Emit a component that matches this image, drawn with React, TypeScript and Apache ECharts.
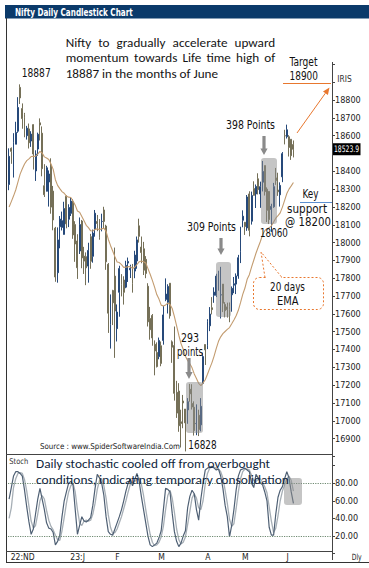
import React, { useEffect, useRef } from 'react';
import * as echarts from 'echarts';

// ---------------- DATA ----------------
const tradingDays: [string, number[]][] = [
  ['2022-11', [24, 25, 28, 29, 30]],
  ['2022-12', [1, 2, 5, 6, 7, 8, 9, 12, 13, 14, 15, 16, 19, 20, 21, 22, 23, 26, 27, 28, 29, 30]],
  ['2023-01', [2, 3, 4, 5, 6, 9, 10, 11, 12, 13, 16, 17, 18, 19, 20, 23, 24, 25, 27, 30, 31]],
  ['2023-02', [1, 2, 3, 6, 7, 8, 9, 10, 13, 14, 15, 16, 17, 20, 21, 22, 23, 24, 27, 28]],
  ['2023-03', [1, 2, 3, 6, 8, 9, 10, 13, 14, 15, 16, 17, 20, 21, 22, 23, 24, 27, 28, 29, 31]],
  ['2023-04', [3, 5, 6, 10, 11, 12, 13, 17, 18, 19, 20, 21, 24, 25, 26, 27, 28]],
  ['2023-05', [2, 3, 4, 5, 8, 9, 10, 11, 12, 15, 16, 17, 18, 19, 22, 23, 24, 25, 26, 29, 30, 31]],
  ['2023-06', [1, 2]],
];
const dates: string[] = tradingDays.flatMap(([m, ds]) => ds.map((d) => `${m}-${String(d).padStart(2, '0')}`));
const blankSlots = 17;

// [open, high, low, close]
const ohlc: number[][] = [
  [18326, 18529, 18294, 18484], [18529, 18534, 18442, 18512], [18430, 18614, 18365, 18562], [18552, 18678, 18552, 18618], [18625, 18816, 18616, 18758],
  [18871, 18888, 18778, 18812], [18752, 18781, 18639, 18696], [18719, 18728, 18591, 18701], [18600, 18655, 18578, 18642], [18638, 18668, 18528, 18560],
  [18570, 18625, 18537, 18609], [18662, 18664, 18410, 18497], [18402, 18518, 18346, 18497], [18525, 18617, 18487, 18608], [18672, 18697, 18573, 18660],
  [18614, 18652, 18372, 18415], [18319, 18440, 18256, 18269], [18288, 18431, 18287, 18420], [18340, 18405, 18202, 18385], [18435, 18473, 18162, 18199],
  [18289, 18318, 18069, 18127], [18081, 18088, 17780, 17807], [17831, 18085, 17775, 18015], [18089, 18149, 17968, 18132], [18085, 18174, 18068, 18123],
  [18046, 18229, 18045, 18191], [18260, 18265, 18080, 18105],
  [18131, 18215, 18087, 18197], [18164, 18252, 18149, 18233], [18230, 18244, 18021, 18043], [18101, 18120, 17892, 17992], [18009, 18047, 17796, 17859],
  [17953, 18141, 17936, 18101], [18121, 18127, 17856, 17914], [17924, 17976, 17824, 17896], [17921, 17945, 17761, 17858], [17868, 17999, 17775, 17956],
  [18033, 18049, 17853, 17895], [17923, 18073, 17887, 18053], [18074, 18183, 18033, 18165], [18119, 18155, 18064, 18107], [18115, 18132, 18016, 18028],
  [18118, 18162, 18063, 18119], [18183, 18201, 18078, 18119], [18093, 18100, 17847, 17892], [17878, 17885, 17493, 17604], [17541, 17709, 17405, 17649],
  [17731, 17735, 17537, 17662],
  [17812, 17972, 17353, 17616], [17517, 17653, 17445, 17610], [17721, 17870, 17584, 17854], [17818, 17823, 17698, 17765], [17790, 17811, 17652, 17721],
  [17750, 17898, 17744, 17872], [17885, 17916, 17779, 17894], [17847, 17876, 17801, 17856], [17859, 17880, 17719, 17771], [17840, 17954, 17800, 17930],
  [17897, 18034, 17853, 18015], [18094, 18134, 18000, 18035], [17975, 18034, 17884, 17944], [17965, 18004, 17818, 17845], [17906, 17924, 17800, 17827],
  [17755, 17772, 17529, 17555], [17574, 17639, 17455, 17511], [17591, 17599, 17421, 17465], [17429, 17451, 17255, 17392], [17383, 17440, 17299, 17304],
  [17360, 17467, 17345, 17451], [17421, 17445, 17306, 17322], [17451, 17644, 17427, 17594], [17681, 17799, 17671, 17711], [17665, 17766, 17602, 17754],
  [17772, 17773, 17573, 17589], [17443, 17451, 17325, 17413], [17422, 17529, 17113, 17154], [17160, 17224, 17016, 17043], [17167, 17211, 16938, 16972],
  [16994, 17062, 16850, 16985], [17111, 17145, 16958, 17100], [17066, 17066, 16828, 16988], [17061, 17127, 16983, 17107], [17177, 17207, 17107, 17151],
  [17097, 17205, 17063, 17077], [17076, 17109, 16917, 16945], [16984, 17092, 16919, 16985], [17031, 17062, 16914, 16951], [16977, 17127, 16941, 17081],
  [17210, 17382, 17205, 17360],
  [17428, 17428, 17313, 17398], [17422, 17570, 17402, 17557], [17533, 17638, 17503, 17599], [17634, 17694, 17597, 17624], [17704, 17749, 17662, 17722],
  [17704, 17825, 17694, 17812], [17807, 17842, 17730, 17828], [17706, 17864, 17574, 17707], [17767, 17767, 17610, 17660], [17653, 17666, 17580, 17618],
  [17639, 17663, 17579, 17624], [17639, 17664, 17553, 17624], [17707, 17754, 17612, 17743], [17761, 17807, 17716, 17769], [17767, 17827, 17711, 17813],
  [17813, 17931, 17797, 17915], [17950, 18089, 17885, 18065],
  [18125, 18181, 18086, 18148], [18114, 18115, 18043, 18090], [18082, 18267, 18066, 18256], [18273, 18288, 18035, 18069], [18120, 18286, 18101, 18264],
  [18303, 18344, 18264, 18265], [18273, 18326, 18194, 18315], [18358, 18389, 18270, 18297], [18273, 18342, 18195, 18314], [18339, 18458, 18287, 18399],
  [18432, 18432, 18264, 18286], [18300, 18310, 18115, 18181], [18287, 18288, 18104, 18129], [18186, 18218, 18060, 18203], [18201, 18335, 18195, 18314],
  [18363, 18419, 18324, 18348], [18295, 18392, 18262, 18285], [18268, 18338, 18202, 18321], [18369, 18508, 18339, 18499], [18600, 18633, 18551, 18599],
  [18594, 18662, 18584, 18633], [18594, 18603, 18483, 18534],
  [18580, 18580, 18464, 18488], [18550, 18573, 18478, 18523.9],
];

const ema20: number[] = [
  18200, 18230, 18261, 18295, 18339, 18384, 18414, 18441, 18460, 18470,
  18483, 18484, 18485, 18497, 18512, 18503, 18481, 18475, 18466, 18441,
  18411, 18353, 18321, 18303, 18286, 18277, 18261, 18255, 18253, 18233,
  18210, 18177, 18170, 18146, 18122, 18097, 18084, 18066, 18065, 18074,
  18077, 18072, 18077, 18081, 18063, 18019, 17984, 17953, 17921, 17891,
  17888, 17876, 17861, 17862, 17865, 17864, 17855, 17862, 17877, 17892,
  17897, 17892, 17886, 17854, 17822, 17788, 17750, 17708, 17683, 17649,
  17644, 17650, 17660, 17653, 17630, 17585, 17533, 17480, 17433, 17401,
  17362, 17338, 17320, 17297, 17263, 17237, 17210, 17197, 17213, 17230,
  17261, 17294, 17325, 17363, 17406, 17446, 17471, 17489, 17501, 17513,
  17523, 17544, 17566, 17589, 17620, 17663, 17709, 17745, 17794, 17820,
  17862, 17901, 17940, 17974, 18006, 18044, 18067, 18078, 18083, 18094,
  18115, 18137, 18151, 18167, 18199, 18237, 18275, 18300, 18318, 18337,
];

const stochK: number[] = [
  62, 75, 88, 93, 93, 91, 88, 72, 53, 36,
  22, 28, 45, 62, 74, 62, 50, 35, 29, 28,
  24, 10, 14, 21, 42, 60, 70, 80, 82, 78,
  50, 22, 32, 42, 37, 36, 38, 41, 55, 74,
  90, 86, 80, 66, 42, 25, 22, 21, 28, 35,
  42, 50, 60, 71, 80, 85, 77, 84, 91, 82,
  65, 50, 35, 20, 10, 8, 10, 12, 18, 26,
  50, 74, 73, 70, 46, 25, 14, 8, 12, 20,
  26, 52, 65, 72, 68, 50, 38, 62, 80, 95,
  97, 98, 99, 97, 95, 96, 88, 74, 55, 42,
  19, 32, 50, 72, 88, 95, 96, 97, 95, 93,
  80, 75, 90, 86, 80, 78, 70, 60, 30, 21,
  21, 45, 64, 72, 76, 85, 93, 86, 70, 57,
];

const stochD: number[] = [
  40, 52, 75, 85, 91, 92, 91, 84, 71, 54,
  37, 29, 32, 45, 60, 66, 62, 49, 38, 31,
  27, 21, 16, 15, 26, 41, 57, 70, 77, 80,
  70, 50, 35, 32, 37, 38, 37, 38, 45, 57,
  73, 83, 85, 77, 63, 44, 30, 23, 24, 28,
  35, 42, 51, 60, 70, 79, 81, 82, 84, 86,
  79, 66, 50, 35, 22, 13, 9, 10, 13, 19,
  31, 50, 66, 72, 63, 47, 28, 16, 11, 13,
  19, 33, 48, 63, 68, 63, 52, 50, 60, 79,
  91, 97, 98, 98, 97, 96, 93, 86, 72, 57,
  39, 31, 34, 51, 70, 85, 93, 96, 96, 95,
  89, 83, 82, 84, 85, 81, 76, 69, 53, 37,
  24, 29, 43, 60, 71, 78, 85, 88, 83, 71,
];

const monthLabels: Record<string, string> = {
  '2022-12-01': '22:ND',
  '2023-01-02': '23:J',
  '2023-02-01': 'F',
  '2023-03-01': 'M',
  '2023-04-03': 'A',
  '2023-05-02': 'M',
  '2023-06-01': 'J',
};
const hiddenPriceTicks = [16800, 18500, 18900, 19000];
const lastPriceText = '18523.9';
const stochLevels = [80, 20];

// ---------------- STYLE ----------------
const NARROW = "'Liberation Sans Narrow', 'Arial Narrow', 'DejaVu Sans Condensed', sans-serif";
const MAIN = "Carlito, Calibri, Lato, 'Open Sans', sans-serif";
const ORANGE = '#e8772e';

function buildOption() {
  const cats = [...dates, ...Array.from({ length: blankSlots }, (_, i) => `pad${i}`)];
  const candleData = ohlc.map(([o, h, l, c]) => [o, c, l, h]);
  const richBase = { fontSize: 8.5, fontFamily: NARROW, color: '#222' };
  return {
    animation: false,
    backgroundColor: '#ffffff',
    grid: [
      { left: 8, width: 324, top: 64.4, height: 392 },
      { left: 8, width: 324, top: 465.5, height: 88.2 },
    ],
    xAxis: [
      { type: 'category', gridIndex: 0, data: cats, show: false, boundaryGap: true },
      {
        type: 'category', gridIndex: 1, data: cats, boundaryGap: true,
        axisLine: { show: false }, axisTick: { show: false }, splitLine: { show: false },
        axisLabel: {
          interval: (_i: number, v: string) => v in monthLabels,
          margin: -1.5,
          fontSize: 8.5, fontFamily: NARROW, color: '#222',
          formatter: (v: string) => {
            const t = monthLabels[v];
            if (!t) return '';
            const key = v === '2023-01-02' ? 'b' : v === '2023-06-01' ? 'c' : 'a';
            return `{${key}|${t}}`;
          },
          rich: {
            a: { ...richBase, padding: [0, 0, 0, 5] },
            b: { ...richBase, padding: [0, 0, 0, 18] },
            c: { ...richBase, padding: [0, 7, 0, 0] },
          },
        },
      },
    ],
    yAxis: [
      {
        type: 'value', gridIndex: 0, position: 'right', min: 16800, max: 19000, interval: 100, scale: true,
        axisLine: { show: false }, splitLine: { show: false },
        axisTick: { show: true, length: 3, lineStyle: { color: '#444' } },
        axisLabel: {
          margin: 3, fontSize: 9, fontFamily: NARROW, color: '#222',
          formatter: (v: number) => (hiddenPriceTicks.includes(v) ? '' : String(v)),
        },
      },
      {
        type: 'value', gridIndex: 1, position: 'right', min: 0, max: 100, interval: 20,
        axisLine: { show: false }, splitLine: { show: false },
        axisTick: { show: true, length: 3, lineStyle: { color: '#444' } },
        axisLabel: {
          margin: 3, fontSize: 9, fontFamily: NARROW, color: '#222',
          formatter: (v: number) => (v === 0 || v === 100 ? '' : v.toFixed(2)),
        },
      },
    ],
    series: [
      {
        type: 'candlestick', xAxisIndex: 0, yAxisIndex: 0, data: candleData, barWidth: 1.4,
        itemStyle: { color: '#103a6c', color0: '#5c573f', borderColor: '#26497a', borderColor0: '#757058', borderWidth: 1 },
      },
      {
        type: 'line', xAxisIndex: 0, yAxisIndex: 0, data: ema20, showSymbol: false, symbol: 'none',
        lineStyle: { color: '#c39c70', width: 1.1 },
      },
      {
        type: 'line', xAxisIndex: 1, yAxisIndex: 1, data: stochD, showSymbol: false, symbol: 'none',
        lineStyle: { color: '#a7afb6', width: 1.3 },
        markLine: {
          silent: true, symbol: 'none', label: { show: false },
          lineStyle: { type: 'dotted', color: '#6f8a72', width: 1.2 },
          data: stochLevels.map((v) => ({ yAxis: v })),
        },
      },
      {
        type: 'line', xAxisIndex: 1, yAxisIndex: 1, data: stochK, showSymbol: false, symbol: 'none',
        lineStyle: { color: '#4f6074', width: 1.2 },
      },
    ],
  };
}

function buildGraphics(lastY: number) {
  const ctx = document.createElement('canvas').getContext('2d')!;
  const textW = (t: string, size: number, family: string, weight = 'normal') => {
    ctx.font = `${weight} ${size}px ${family}`;
    return ctx.measureText(t).width || 1;
  };
  const txt = (t: string, x: number, y: number, sx: number, size: number, family: string, color: string, weight = 'normal') => ({
    type: 'text', x, y, scaleX: sx, z: 30,
    style: { text: t, fontSize: size, fontFamily: family, fontWeight: weight, fill: color, align: 'left', verticalAlign: 'middle' },
  });
  const fit = (t: string, x: number, y: number, w: number, size: number, family: string, color = '#111', weight = 'normal') =>
    txt(t, x, y, w / textW(t, size, family, weight), size, family, color, weight);

  const mainSize = 12.5;
  const line3 = '18887 in the months of June';
  const s = 152.6 / textW(line3, mainSize, MAIN);
  const justify = (words: string[], x0: number, x1: number, y: number) => {
    const ws = words.map((w) => textW(w, mainSize, MAIN) * s);
    const gap = (x1 - x0 - ws.reduce((a, b) => a + b, 0)) / (words.length - 1);
    let x = x0;
    return words.map((w, i) => {
      const el = txt(w, x, y, s, mainSize, MAIN, '#151515');
      x += ws[i] + gap;
      return el;
    });
  };

  const downArrow = (cx: number, y0: number, y1: number, tip: number) => ({
    type: 'polygon', z: 25,
    shape: { points: [[cx - 1.6, y0], [cx + 1.6, y0], [cx + 1.6, y1], [cx + 3.6, y1], [cx, tip], [cx - 3.6, y1], [cx - 1.6, y1]] },
    style: { fill: '#8a8a8a' },
  });
  const greyBox = (x: number, y: number, w: number, h: number) => ({
    type: 'rect', z: 20, shape: { x, y, width: w, height: h, r: 3 },
    style: { fill: 'rgba(140,140,140,0.5)' },
  });
  const ln = (x1: number, y1: number, x2: number, y2: number, stroke = '#333', lineWidth = 1, z = 15) => ({
    type: 'line', z, shape: { x1, y1, x2, y2 }, style: { stroke, lineWidth },
  });

  const tip = [329.5, 87.5];
  const base = [325.4, 93.2];

  const els: any[] = [
    { type: 'rect', z: 15, shape: { x: 5, y: 5, width: 364, height: 13.5 }, style: { fill: '#0b3a6a' } },
    ln(6.5, 18, 6.5, 562),
    ln(6, 562.5, 369, 562.5),
    ln(6, 454.5, 332, 454.5, '#444'),
    ln(6, 551.5, 332, 551.5, '#444'),
    ln(332.5, 62, 332.5, 560, '#444'),
    fit('Nifty Daily Candlestick Chart', 15, 11.6, 118, 11, NARROW, '#ffffff', 'bold'),

    ...justify(['Nifty', 'to', 'gradually', 'accelerate', 'upward'], 65.7, 275.3, 42.7),
    ...justify(['momentum', 'towards', 'Life', 'time', 'high', 'of'], 65.7, 275.3, 57.9),
    txt(line3, 65.7, 73.5, s, mainSize, MAIN, '#151515'),
    fit('18887', 21.7, 73.3, 29, 12, NARROW),

    fit('Target', 289.5, 62.5, 28, 12, NARROW),
    fit('18900', 289.5, 75.8, 28.5, 12, NARROW),
    ln(283, 83.5, 331, 83.5, ORANGE, 1.2, 25),
    ln(297, 133, base[0], base[1], ORANGE, 1, 25),
    { type: 'polygon', z: 25, shape: { points: [tip, [327.9, 94.9], [323, 91.5]] }, style: { fill: ORANGE } },
    fit('IRIS', 337.3, 79, 14.4, 8, NARROW, '#333'),

    fit('398 Points', 226, 125, 49, 12, NARROW),
    downArrow(264, 136, 148.5, 155),
    greyBox(261, 158, 16, 66),
    fit('18060', 260, 233.5, 28, 12, NARROW),

    fit('309 Points', 187, 227, 49, 12, NARROW),
    downArrow(221, 238, 248.5, 255),
    greyBox(216, 262, 15, 55),

    fit('293', 181, 338, 18, 12, NARROW),
    fit('points', 177, 352, 26, 12, NARROW),
    downArrow(189, 358, 372, 379),
    greyBox(186, 382, 17, 51),
    fit('16828', 188.3, 445.5, 28.4, 12, NARROW),

    fit('Key', 302.5, 194, 16, 12, NARROW),
    ln(300, 202.5, 332, 202.5, '#5b8fd0', 1, 25),
    fit('support', 287, 208.5, 40, 12, NARROW),
    fit('@ 18200', 285, 222, 46, 12, NARROW),

    {
      type: 'rect', z: 24, shape: { x: 253.5, y: 277.5, width: 70, height: 32, r: 6 },
      style: { fill: '#ffffff', stroke: ORANGE, lineWidth: 1, lineDash: [2, 2] },
    },
    ln(266, 277.5, 281, 277.5, '#ffffff', 2, 25),
    {
      type: 'polyline', z: 26, shape: { points: [[265, 277.5], [261, 252], [282, 277.5]] },
      style: { stroke: ORANGE, lineWidth: 1, lineDash: [2, 2], fill: null },
    },
    fit('20 days', 270, 287.5, 35, 12, NARROW),
    fit('EMA', 277, 300.5, 21.5, 12, NARROW),

    fit('Source : www.SpiderSoftwareIndia.Com', 40, 446.7, 140, 8, NARROW, '#222'),

    { type: 'rect', z: 28, shape: { x: 333, y: lastY - 6, width: 27.5, height: 12 }, style: { fill: '#000000' } },
    fit(lastPriceText, 334, lastY, 25, 9, NARROW, '#ffffff'),

    fit('Stoch', 9.3, 461.5, 19, 8, NARROW, '#333'),
    fit('Daily stochastic cooled off from overbought', 36, 464, 234, 12.5, MAIN, '#0f1f3d'),
    fit('conditions, indicating temporary consolidation', 36, 479.5, 253, 12.5, MAIN, '#0f1f3d'),
    greyBox(284, 478, 18, 27),
    fit('Dly', 351.7, 557, 10, 8.5, NARROW, '#222'),
  ];
  return els;
}

export default function App() {
  const ref = useRef<HTMLDivElement>(null);
  useEffect(() => {
    if (!ref.current) return;
    const chart = echarts.init(ref.current, undefined, { renderer: 'svg', width: 369, height: 568 });
    chart.setOption(buildOption() as any);
    const lastClose = ohlc[ohlc.length - 1][3];
    const lastY = chart.convertToPixel({ yAxisIndex: 0 }, lastClose) as unknown as number;
    chart.setOption({ graphic: { elements: buildGraphics(lastY) } } as any);
    return () => chart.dispose();
  }, []);
  return (
    <div
      ref={ref}
      style={{ position: 'absolute', left: 0, top: 0, width: 369, height: 568, background: '#ffffff' }}
    />
  );
}
